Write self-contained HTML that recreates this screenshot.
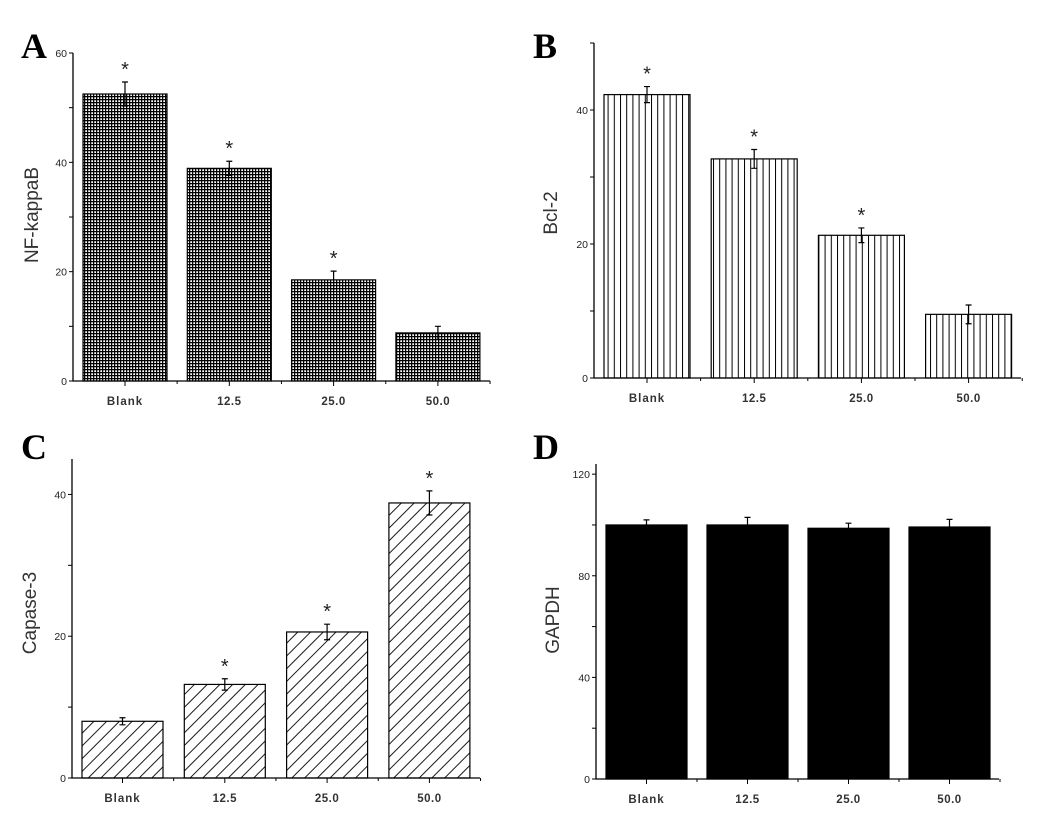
<!DOCTYPE html>
<html><head><meta charset="utf-8"><style>
body{margin:0;background:#fff}
svg text{font-family:"Liberation Sans",Arial,sans-serif}
</style></head><body>
<svg id="s" width="1050" height="830" xmlns="http://www.w3.org/2000/svg">
<defs>
<pattern id="pA" width="3" height="3" patternUnits="userSpaceOnUse"><rect width="3" height="3" fill="#fff"/><path d="M0 0.6H3M0.6 0V3" stroke="#000" stroke-width="1.3"/></pattern>
<pattern id="pB" width="6.2" height="6" patternUnits="userSpaceOnUse"><rect width="6.2" height="6" fill="#fff"/><path d="M0.5 0V6" stroke="#000" stroke-width="1"/></pattern>
<pattern id="pC" width="9" height="9" patternUnits="userSpaceOnUse" patternTransform="rotate(45)"><rect width="9" height="9" fill="#fff"/><path d="M0.5 0V9" stroke="#000" stroke-width="0.9"/></pattern>
</defs>
</svg>
<script>
const categories=["Blank","12.5","25.0","50.0"];
const nfValues=[52.5,38.9,18.5,8.8];
const nfErrors=[2.2,1.3,1.6,1.2];
const nfStars=[true,true,true,false];
const bclValues=[42.3,32.7,21.3,9.5];
const bclErrors=[1.2,1.4,1.1,1.4];
const bclStars=[true,true,true,false];
const capValues=[8.0,13.2,20.6,38.8];
const capErrors=[0.5,0.8,1.1,1.7];
const capStars=[false,true,true,true];
const gapdhValues=[100,100,98.7,99.2];
const gapdhErrors=[2,3,2,3];
const gapdhStars=[false,false,false,false];
const nfTicks=[0,20,40,60];
const bclTicks=[0,20,40];
const capTicks=[0,20,40];
const gapdhTicks=[0,40,80,120];

const NS="http://www.w3.org/2000/svg";
const svg=document.getElementById('s');
function mk(tag,attrs,parent){const e=document.createElementNS(NS,tag);for(const k in attrs)e.setAttribute(k,attrs[k]);(parent||svg).appendChild(e);return e;}

function panel(p){
  const g=mk('g',{});
  
  
  const y=v=>p.y0-(v-0)*(p.y0-p.yTop)/p.yMax;
  const bw=p.barW, step=p.step;
  const cx=i=>p.x1+bw/2+i*step;
  p.values.forEach((v,i)=>{
    const r=mk('rect',{x:cx(i)-bw/2,y:y(v),width:bw,height:p.y0-y(v),fill:p.fill,stroke:'#000','stroke-width':1.2},g);
    
    
    const e=p.errors[i];
    const eb=mk('path',{d:`M${cx(i)} ${y(v+e)}V${y(v-e)}M${cx(i)-3} ${y(v+e)}H${cx(i)+3}M${cx(i)-3} ${y(v-e)}H${cx(i)+3}`,stroke:'#000','stroke-width':1.2,fill:'none'},g);
    
    
    if(p.stars[i]){
      const t=mk('text',{x:cx(i),y:y(v+e)-6,'text-anchor':'middle','font-size':20,fill:'#222'},g);
      t.textContent='*';
      
      
    }
  });
  const ax=mk('path',{d:`M${p.ax} ${p.yTop}V${p.y0}H${p.xEnd}`,stroke:'#000','stroke-width':1.3,fill:'none'},g);
  
  
  const half=p.ticks[1]/2;
  for(let v=0;v<=p.yMax+0.01;v+=half){
    mk('line',{x1:p.ax-4,x2:p.ax,y1:y(v),y2:y(v),stroke:'#000','stroke-width':1},g);
  }
  p.ticks.forEach(v=>{
    const t=mk('text',{x:p.ax-6,y:y(v)+4,'text-anchor':'end','font-size':10.5,fill:'#222'},g);
    t.textContent=v;
    
    
  });
  categories.forEach((c,i)=>{
    mk('line',{x1:cx(i),x2:cx(i),y1:p.y0,y2:p.y0+5,stroke:'#000'},g);
    mk('line',{x1:cx(i)+step/2,x2:cx(i)+step/2,y1:p.y0,y2:p.y0+3,stroke:'#000'},g);
    const t=mk('text',{x:cx(i),y:p.y0+24,'text-anchor':'middle','font-size':11.5,'font-weight':'bold',fill:'#333','letter-spacing':c==='Blank'?'1':'0.5'},g);
    t.textContent=c;
    
    
  });
  const yt=mk('text',{x:p.titleX,y:p.titleY,'text-anchor':'middle','font-size':19,fill:'#333',transform:`rotate(-90 ${p.titleX} ${p.titleY})`},g);
  yt.textContent=p.title;
  
  
  const L=mk('text',{x:p.lx,y:p.ly,'font-size':36,'font-weight':'bold',fill:'#000',style:'font-family:"Liberation Serif",serif'},g);
  L.textContent=p.letter;
  
  
}
panel({name:'panel-a-nf-kappab',values:nfValues,errors:nfErrors,stars:nfStars,ticks:nfTicks,yMax:60,y0:381,yTop:53,ax:73,xEnd:490,x1:83,barW:84,step:104.3,fill:'url(#pA)',title:'NF-kappaB',titleX:38,titleY:215,letter:'A',lx:21,ly:58});
panel({name:'panel-b-bcl-2',values:bclValues,errors:bclErrors,stars:bclStars,ticks:bclTicks,yMax:50,y0:378,yTop:43,ax:594,xEnd:1021,x1:604,barW:86,step:107.2,fill:'url(#pB)',title:'Bcl-2',titleX:557,titleY:213,letter:'B',lx:533,ly:58});
panel({name:'panel-c-capase-3',values:capValues,errors:capErrors,stars:capStars,ticks:capTicks,yMax:45,y0:778,yTop:459,ax:72,xEnd:480,x1:82,barW:81,step:102.3,fill:'url(#pC)',title:'Capase-3',titleX:36,titleY:613,letter:'C',lx:21,ly:459});
panel({name:'panel-d-gapdh',values:gapdhValues,errors:gapdhErrors,stars:gapdhStars,ticks:gapdhTicks,yMax:124,y0:779,yTop:464,ax:596,xEnd:999,x1:606,barW:81,step:101,fill:'#000',title:'GAPDH',titleX:559,titleY:620,letter:'D',lx:533,ly:459});
</script>
</body></html>
